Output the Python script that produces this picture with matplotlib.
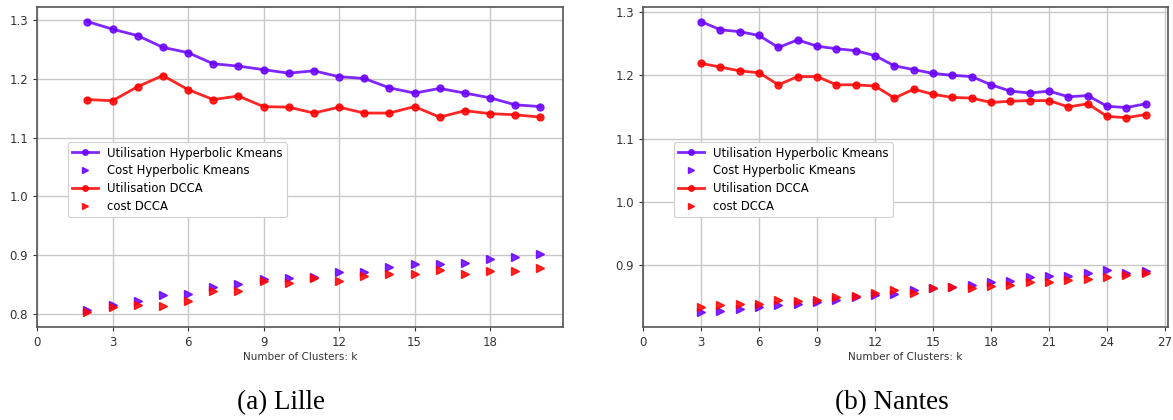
import matplotlib
matplotlib.use("Agg")
import matplotlib.pyplot as plt
from matplotlib.ticker import MultipleLocator

# Lille: k = 2..20
k_lille = list(range(2, 21))
util_hyp_lille = [1.298, 1.285, 1.274, 1.254, 1.245, 1.226, 1.222, 1.216, 1.210, 1.214,
                  1.204, 1.201, 1.185, 1.176, 1.184, 1.176, 1.168, 1.156, 1.153]
cost_hyp_lille = [0.807, 0.815, 0.821, 0.831, 0.833, 0.845, 0.851, 0.859, 0.861, 0.863,
                  0.871, 0.871, 0.879, 0.885, 0.885, 0.887, 0.893, 0.897, 0.901]
util_dcca_lille = [1.165, 1.163, 1.187, 1.206, 1.182, 1.165, 1.171, 1.153, 1.152, 1.142,
                   1.152, 1.142, 1.142, 1.153, 1.135, 1.146, 1.141, 1.139, 1.135]
cost_dcca_lille = [0.802, 0.811, 0.815, 0.813, 0.822, 0.839, 0.838, 0.855, 0.852, 0.860,
                   0.856, 0.864, 0.868, 0.867, 0.875, 0.868, 0.873, 0.873, 0.877]

# Nantes: k = 3..26
k_nantes = list(range(3, 27))
util_hyp_nantes = [1.285, 1.272, 1.269, 1.263, 1.244, 1.256, 1.246, 1.242, 1.239, 1.231,
                   1.215, 1.209, 1.203, 1.200, 1.198, 1.185, 1.175, 1.172, 1.175, 1.166,
                   1.168, 1.151, 1.149, 1.155]
cost_hyp_nantes = [0.825, 0.828, 0.831, 0.834, 0.836, 0.839, 0.842, 0.845, 0.849, 0.852,
                   0.854, 0.861, 0.864, 0.865, 0.869, 0.873, 0.875, 0.881, 0.883, 0.883,
                   0.887, 0.892, 0.888, 0.890]
util_dcca_nantes = [1.219, 1.213, 1.207, 1.204, 1.185, 1.198, 1.198, 1.185, 1.185, 1.183,
                    1.164, 1.178, 1.170, 1.165, 1.164, 1.157, 1.159, 1.160, 1.160, 1.150,
                    1.155, 1.135, 1.133, 1.138]
cost_dcca_nantes = [0.834, 0.837, 0.839, 0.839, 0.845, 0.843, 0.845, 0.850, 0.851, 0.856,
                    0.860, 0.856, 0.863, 0.865, 0.864, 0.867, 0.869, 0.873, 0.873, 0.877,
                    0.878, 0.881, 0.885, 0.887]

series_labels = ["Utilisation Hyperbolic Kmeans", "Cost Hyperbolic Kmeans",
                 "Utilisation DCCA", "cost DCCA"]
captions = ["(a) Lille", "(b) Nantes"]
xlabel = "Number of Clusters: k"

PURPLE = "#6a00ff"
RED = "#ff0000"
W, H = 1173, 420

fig = plt.figure(figsize=(W / 100, H / 100), dpi=100)
fig.patch.set_facecolor("white")


def panel(rect, k, uh, ch, ud, cd, caption, cap_x):
    ax = fig.add_axes(rect)
    ax.plot(k, uh, color=PURPLE, marker="o", ms=5, lw=2, alpha=0.85, label=series_labels[0])
    ax.plot(k, ch, color=PURPLE, marker=">", ms=6, lw=0, alpha=0.85, label=series_labels[1])
    ax.plot(k, ud, color=RED, marker="o", ms=5, lw=2, alpha=0.85, label=series_labels[2])
    ax.plot(k, cd, color=RED, marker=">", ms=6, lw=0, alpha=0.85, label=series_labels[3])
    ax.set_xlim(left=0)
    ax.xaxis.set_major_locator(MultipleLocator(3))
    ax.yaxis.set_major_locator(MultipleLocator(0.1))
    ax.grid(True, color="#c8c8c8", lw=1)
    ax.set_axisbelow(True)
    for s in ax.spines.values():
        s.set_color("#555555")
        s.set_linewidth(1.2)
    ax.tick_params(labelsize=8.5, colors="#333333", length=3, width=0.8)
    ax.set_xlabel(xlabel, fontsize=7.5, color="#333333", labelpad=2)
    leg = ax.legend(loc="upper left", bbox_to_anchor=(0.048, 0.595), fontsize=8.4,
                    frameon=True, framealpha=1, edgecolor="#d0d0d0",
                    handlelength=2.2, borderpad=0.35, labelspacing=0.42,
                    markerscale=0.8)
    leg.get_frame().set_linewidth(0.8)
    fig.text(cap_x / W, 1 - 403 / H, caption, ha="center", va="center",
             fontsize=19.5, family="Liberation Serif")
    return ax


panel([37 / W, 1 - 327 / H, 526 / W, 320 / H], k_lille,
      util_hyp_lille, cost_hyp_lille, util_dcca_lille, cost_dcca_lille,
      captions[0], 281)
panel([643 / W, 1 - 327 / H, 525 / W, 320 / H], k_nantes,
      util_hyp_nantes, cost_hyp_nantes, util_dcca_nantes, cost_dcca_nantes,
      captions[1], 892)

fig.savefig("out.png", dpi=100)
